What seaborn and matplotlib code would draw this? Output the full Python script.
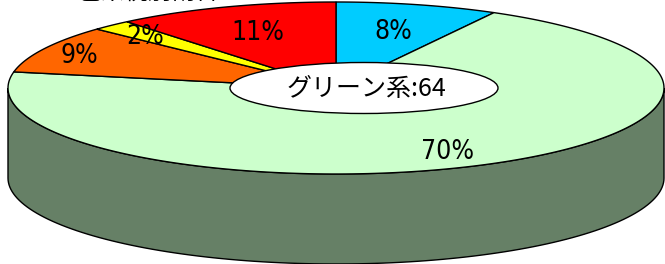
import numpy as np
import seaborn as sns
import matplotlib.pyplot as plt
from matplotlib.patches import Polygon, Ellipse

# slice data (clockwise from 12 o'clock, as Excel draws it)
categories = ['ブルー系', 'グリーン系', 'オレンジ系', 'イエロー系', 'レッド系']
shares = [8, 70, 9, 2, 11]
pct_labels = ['8%', '70%', '9%', '2%', '11%']
callout_text = 'グリーン系:64'
title_text = '色系統別割合'

top_colors = ['#00CCFF', '#CCFFCC', '#FF6600', '#FFFF00', '#FF0000']
side_colors = ['#006680', '#668066', '#803300', '#808000', '#800000']
label_r = [0.7, 0.8, 0.88, 0.85, 0.7]

sns.set_theme(style='white')
plt.rcParams['font.family'] = ['Noto Sans CJK JP', 'DejaVu Sans']

# pie geometry in pixel-like data units
cx, cy, ra, rb, depth = 336, 88, 328, 86, 90


def pt(theta, r=1.0, dy=0.0):
    t = np.radians(theta)
    return cx + ra * r * np.sin(t), cy - rb * r * np.cos(t) + dy


fig = plt.figure(figsize=(6.65, 2.64), dpi=100)
ax = fig.add_axes([0, 0, 1, 1])
ax.set_xlim(0, 665)
ax.set_ylim(264, 0)
ax.axis('off')

frac = np.array(shares, dtype=float) / sum(shares)
edges = np.concatenate([[0], np.cumsum(frac) * 360])

# side walls of the front half
for i in range(len(shares)):
    lo, hi = max(edges[i], 90), min(edges[i + 1], 270)
    if hi <= lo:
        continue
    th = np.linspace(lo, hi, 120)
    xs, ys = pt(th)
    xb, yb = pt(th[::-1], dy=depth)
    poly = Polygon(np.column_stack([np.r_[xs, xb], np.r_[ys, yb]]),
                   facecolor=side_colors[i], edgecolor='black', lw=1.0, zorder=1)
    ax.add_patch(poly)

# top faces
for i in range(len(shares)):
    th = np.linspace(edges[i], edges[i + 1], 200)
    xs, ys = pt(th)
    poly = Polygon(np.column_stack([np.r_[cx, xs], np.r_[cy, ys]]),
                   facecolor=top_colors[i], edgecolor='black', lw=1.0, zorder=2)
    ax.add_patch(poly)

# percent labels
for i, lab in enumerate(pct_labels):
    mid = (edges[i] + edges[i + 1]) / 2
    x, y = pt(mid, r=label_r[i], dy=2)
    ax.text(x, y, lab, ha='center', va='center', fontsize=19, zorder=4,
            family='DejaVu Sans', fontstretch='condensed', color='black')

# callout
ax.add_patch(Ellipse((364, 88), 268, 51, facecolor='white', edgecolor='black',
                     lw=1.0, zorder=3))
ax.text(366, 89, callout_text, ha='center', va='center', fontsize=18,
        color='black', zorder=4)

# title, mostly cut off at the top
ax.text(148, -8, title_text, ha='center', va='center', fontsize=17,
        color='black', zorder=4)

fig.savefig('out.png', dpi=100)
